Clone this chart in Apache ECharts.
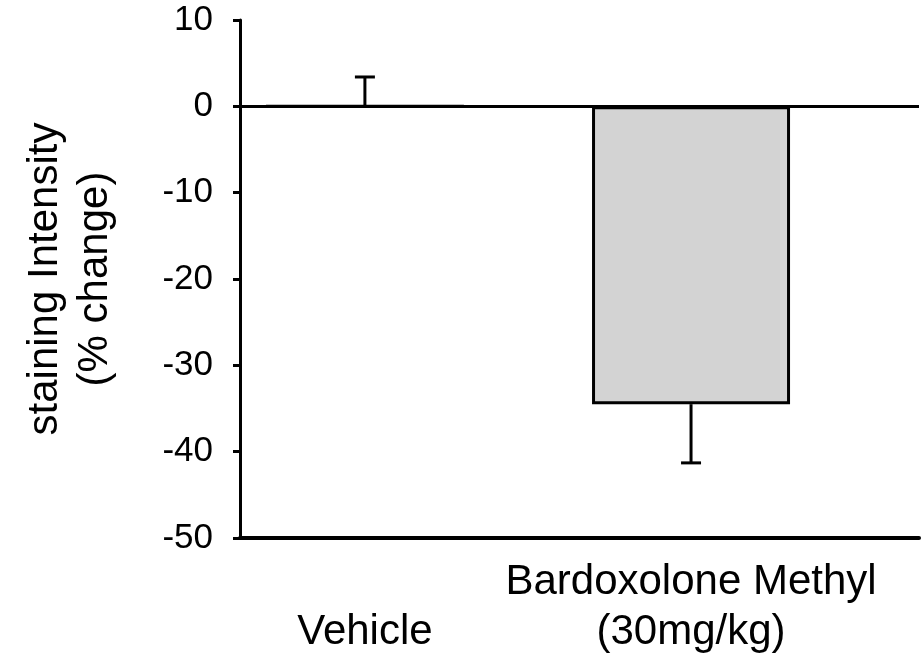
<!DOCTYPE html>
<html>
<head>
<meta charset="utf-8">
<script src="https://cdn.jsdelivr.net/npm/echarts@6/dist/echarts.min.js"></script>
<style>
  html, body { margin: 0; padding: 0; background: #fff; }
  #chart { width: 924px; height: 659px; }
</style>
</head>
<body>
<div id="chart"></div>
<script>
// Groups, their positions on the x scale, mean change and error (SEM)
const groups = ['Vehicle', 'Bardoxolone Methyl\n(30mg/kg)'];
const groupPos = [1, 2];
const means = [0, -34.5];
const errors = [3.4, 6.8];
const errorDir = [1, -1]; // error bar drawn upward for vehicle, downward for treatment
const yTicks = [10, 0, -10, -20, -30, -40, -50];

const FONT = '"Liberation Sans", Arial, Helvetica, sans-serif';

const barData = groupPos.map((p, i) => [p, means[i]]);
const errData = groupPos.map((p, i) => [p, means[i], means[i] + errorDir[i] * errors[i]]);

const chart = echarts.init(document.getElementById('chart'), null, { renderer: 'canvas' });

chart.setOption({
  animation: false,
  backgroundColor: '#ffffff',
  grid: { left: 240, right: 5, top: 20, bottom: 121, containLabel: false, outerBoundsMode: 'none' },
  xAxis: {
    type: 'value',
    min: 0.617,
    max: 2.699,
    splitLine: { show: false },
    axisLine: { show: true, onZero: false, lineStyle: { color: '#000', width: 4 } },
    axisTick: { show: false },
    axisLabel: {
      show: true,
      customValues: groupPos,
      margin: 19,
      fontFamily: FONT,
      fontSize: 42,
      lineHeight: 50,
      color: '#000',
      align: 'center',
      formatter: function (v) {
        const idx = groupPos.indexOf(Math.round(v));
        if (idx < 0) return '';
        const label = groups[idx];
        return label.indexOf('\n') >= 0 ? label : '\n' + label;
      }
    }
  },
  yAxis: {
    type: 'value',
    min: yTicks[yTicks.length - 1],
    max: yTicks[0],
    interval: 10,
    name: 'staining Intensity\n(% change)',
    nameLocation: 'middle',
    nameGap: 120,
    nameRotate: 90,
    nameTextStyle: { fontFamily: FONT, fontSize: 42, lineHeight: 50, color: '#000', align: 'center' },
    splitLine: { show: false },
    axisLine: { show: true, lineStyle: { color: '#000', width: 3 } },
    axisTick: { show: true, length: 7, lineStyle: { color: '#000', width: 3 } },
    axisLabel: { fontFamily: FONT, fontSize: 35, color: '#000', margin: 27 }
  },
  series: [
    {
      type: 'bar',
      data: barData,
      barWidth: 198,
      itemStyle: { color: '#d3d3d3', borderColor: '#000', borderWidth: 3 },
      markLine: {
        silent: true,
        symbol: ['none', 'none'],
        label: { show: false },
        lineStyle: { color: '#000', width: 3, type: 'solid' },
        data: [{ yAxis: 0 }]
      },
      z: 2
    },
    {
      type: 'custom',
      data: errData,
      z: 5,
      renderItem: function (params, api) {
        const x = api.value(0);
        const from = api.coord([x, api.value(1)]);
        const to = api.coord([x, api.value(2)]);
        const capHalf = 10;
        const style = { stroke: '#000', lineWidth: 3 };
        return {
          type: 'group',
          children: [
            { type: 'line', shape: { x1: from[0], y1: from[1], x2: to[0], y2: to[1] }, style: style },
            { type: 'line', shape: { x1: to[0] - capHalf, y1: to[1], x2: to[0] + capHalf, y2: to[1] }, style: style }
          ]
        };
      }
    }
  ]
});
</script>
</body>
</html>
